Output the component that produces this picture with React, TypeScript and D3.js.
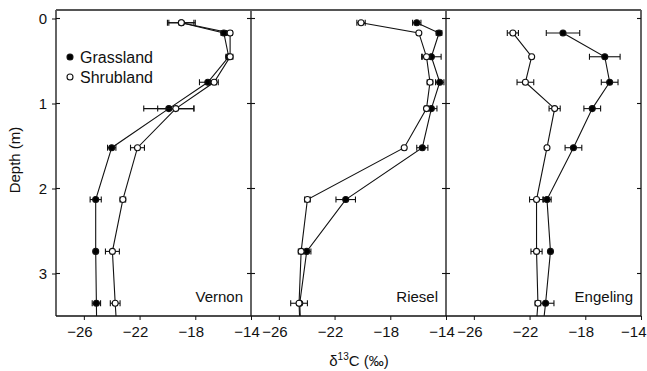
import { useEffect, useRef } from 'react';
import * as d3 from 'd3';

// Sites (panels) and their sampled depths (m)
const sites = ['Vernon', 'Riesel', 'Engeling'];
const depthVernon = [0.05, 0.17, 0.45, 0.75, 1.06, 1.52, 2.13, 2.74, 3.35, 4.0];
const depthRiesel = [0.05, 0.17, 0.45, 0.75, 1.06, 1.52, 2.13, 2.74, 3.35, 4.0];
const depthEngeling = [0.17, 0.45, 0.75, 1.06, 1.52, 2.13, 2.74, 3.35, 4.0];

// delta 13C values (per mil) and errors
const grassVernon = [-19.0, -15.95, -15.6, -17.1, -19.9, -24.0, -25.15, -25.15, -25.1, -25.05];
const grassVernonErr = [0.9, 0.2, 0.2, 0.6, 1.8, 0.3, 0.4, 0, 0.3, 0];
const shrubVernon = [-19.0, -15.5, -15.5, -16.65, -19.4, -22.15, -23.2, -23.95, -23.75, -23.5];
const shrubVernonErr = [1.0, 0.15, 0.2, 0.3, 1.3, 0.5, 0.2, 0.5, 0.35, 0];

const grassRiesel = [-16.1, -14.5, -15.05, -14.45, -15.05, -15.7, -21.2, -24.0, -24.5, -24.35];
const grassRieselErr = [0.3, 0.2, 0.7, 0.3, 0.4, 0.4, 0.7, 0.3, 0, 0];
const shrubRiesel = [-20.1, -15.95, -15.4, -15.15, -15.4, -17.0, -23.95, -24.4, -24.55, -24.4];
const shrubRieselErr = [0.3, 0.1, 0.3, 0.2, 0.15, 0.1, 0.2, 0.2, 0.6, 0];

const grassEngeling = [-19.6, -16.6, -16.25, -17.5, -18.85, -20.75, -20.5, -20.85, -21.3];
const grassEngelingErr = [1.2, 1.1, 0.6, 0.6, 0.6, 0.3, 0, 0.6, 0];
const shrubEngeling = [-23.2, -21.85, -22.3, -20.2, -20.75, -21.5, -21.5, -21.4, -21.7];
const shrubEngelingErr = [0.4, 0.1, 0.6, 0.4, 0.1, 0.5, 0.4, 0.2, 0];

const xTicks = [-26, -22, -18, -14];
const yTicks = [0, 1, 2, 3];

const zip = (depth: number[], vals: number[], errs: number[]) =>
  depth.map((d, i) => ({ depth: d, value: vals[i], err: errs[i] }));

const panels = [
  { grass: zip(depthVernon, grassVernon, grassVernonErr), shrub: zip(depthVernon, shrubVernon, shrubVernonErr) },
  { grass: zip(depthRiesel, grassRiesel, grassRieselErr), shrub: zip(depthRiesel, shrubRiesel, shrubRieselErr) },
  { grass: zip(depthEngeling, grassEngeling, grassEngelingErr), shrub: zip(depthEngeling, shrubEngeling, shrubEngelingErr) },
];

export default function App() {
  const svgRef = useRef<SVGSVGElement>(null);

  useEffect(() => {
    const width = 647;
    const height = 371;
    const svg = d3.select(svgRef.current);
    svg.selectAll('*').remove();
    svg.attr('width', width).attr('height', height);

    const font = 'Liberation Sans, Arial, Helvetica, sans-serif';
    const left = 56;
    const top = 10;
    const bottom = 316;
    const panelW = 195;
    const maxDepth = 3.5;

    const y = d3.scaleLinear().domain([-0.1, maxDepth]).range([top, bottom]);

    svg.append('defs')
      .append('clipPath')
      .attr('id', 'plot-clip')
      .append('rect')
      .attr('x', left)
      .attr('y', top)
      .attr('width', panelW * 3)
      .attr('height', bottom - top);

    panels.forEach((p, i) => {
      const x0 = left + i * panelW;
      const x = d3.scaleLinear().domain([-28, -14]).range([x0, x0 + panelW]);
      const g = svg.append('g');

      // line for each series, clipped to panel
      const line = d3.line<{ depth: number; value: number }>()
        .x(d => x(d.value))
        .y(d => y(d.depth));

      const series = [
        { data: p.grass, fill: '#000' },
        { data: p.shrub, fill: '#fff' },
      ];

      const clipped = g.append('g').attr('clip-path', 'url(#plot-clip)');
      series.forEach(s => {
        clipped.append('path')
          .datum(s.data)
          .attr('fill', 'none')
          .attr('stroke', '#111')
          .attr('stroke-width', 1.1)
          .attr('d', line);
      });

      series.forEach(s => {
        const pts = s.data.filter(d => d.depth <= maxDepth);
        const eb = g.append('g').attr('stroke', '#111').attr('stroke-width', 1.1);
        pts.filter(d => d.err > 0).forEach(d => {
          const cy = y(d.depth);
          eb.append('line')
            .attr('x1', x(d.value - d.err)).attr('x2', x(d.value + d.err))
            .attr('y1', cy).attr('y2', cy);
          [d.value - d.err, d.value + d.err].forEach(v => {
            eb.append('line')
              .attr('x1', x(v)).attr('x2', x(v))
              .attr('y1', cy - 3).attr('y2', cy + 3);
          });
        });
        g.append('g')
          .selectAll('circle')
          .data(pts)
          .enter()
          .append('circle')
          .attr('cx', d => x(d.value))
          .attr('cy', d => y(d.depth))
          .attr('r', 3)
          .attr('fill', s.fill)
          .attr('stroke', '#111')
          .attr('stroke-width', 1.1);
      });

      // x axis (digits centred on the tick, minus hangs left)
      const xAxis = g.append('g')
        .attr('transform', `translate(0,${bottom})`)
        .call(d3.axisBottom(x).tickValues(xTicks).tickSize(4).tickSizeOuter(0)
          .tickFormat(d => `\u2212${Math.abs(d as number)}`));
      xAxis.select('.domain').remove();
      xAxis.selectAll('line').attr('stroke', '#111');
      xAxis.selectAll('text')
        .attr('font-family', font)
        .attr('font-size', 15)
        .attr('fill', '#111')
        .attr('dy', '0.95em')
        .attr('dx', -4.5);
      if (i === panels.length - 1) {
        xAxis.selectAll('text')
          .filter(d => d === -14)
          .attr('text-anchor', 'end')
          .attr('dx', 5);
      }

      // inner y ticks on each panel side
      const tickG = g.append('g').attr('stroke', '#111').attr('stroke-width', 1.1);
      yTicks.forEach(t => {
        tickG.append('line')
          .attr('x1', x0).attr('x2', x0 + 4)
          .attr('y1', y(t)).attr('y2', y(t));
        tickG.append('line')
          .attr('x1', x0 + panelW - 4).attr('x2', x0 + panelW)
          .attr('y1', y(t)).attr('y2', y(t));
      });

      // panel right border
      g.append('line')
        .attr('x1', x0 + panelW).attr('x2', x0 + panelW)
        .attr('y1', top).attr('y2', bottom)
        .attr('stroke', '#111')
        .attr('stroke-width', 1.3);

      // site label
      g.append('text')
        .attr('x', x0 + panelW - 8)
        .attr('y', 302)
        .attr('text-anchor', 'end')
        .attr('font-family', font)
        .attr('font-size', 15)
        .attr('fill', '#111')
        .text(sites[i]);
    });

    // y axis
    const yAxis = svg.append('g')
      .attr('transform', `translate(${left},0)`)
      .call(d3.axisLeft(y).tickValues(yTicks).tickSize(4).tickSizeOuter(0).tickPadding(5)
        .tickFormat(d3.format('d')));
    yAxis.select('.domain').remove();
    yAxis.selectAll('line').attr('stroke', '#111');
    yAxis.selectAll('text')
      .attr('font-family', font)
      .attr('font-size', 15)
      .attr('fill', '#111');

    // frame: left, bottom, top
    svg.append('line')
      .attr('x1', left).attr('x2', left).attr('y1', top).attr('y2', bottom)
      .attr('stroke', '#111').attr('stroke-width', 1.3);
    svg.append('line')
      .attr('x1', left).attr('x2', left + panelW * 3).attr('y1', bottom).attr('y2', bottom)
      .attr('stroke', '#111').attr('stroke-width', 1.3);
    svg.append('line')
      .attr('x1', left).attr('x2', left + panelW * 3).attr('y1', top).attr('y2', top)
      .attr('stroke', '#555').attr('stroke-width', 1.8);

    // legend
    const legend = svg.append('g').attr('font-family', font).attr('font-size', 16).attr('fill', '#111');
    [
      { label: 'Grassland', fill: '#000', yy: 57 },
      { label: 'Shrubland', fill: '#fff', yy: 77 },
    ].forEach(l => {
      legend.append('circle')
        .attr('cx', 70).attr('cy', l.yy).attr('r', 3)
        .attr('fill', l.fill).attr('stroke', '#111').attr('stroke-width', 1.1);
      legend.append('text')
        .attr('x', 80).attr('y', l.yy).attr('dy', '0.36em')
        .text(l.label);
    });

    // axis titles
    svg.append('text')
      .attr('transform', 'translate(20,160) rotate(-90)')
      .attr('text-anchor', 'middle')
      .attr('font-family', font)
      .attr('font-size', 15)
      .attr('fill', '#111')
      .text('Depth (m)');

    const xt = svg.append('text')
      .attr('x', 359)
      .attr('y', 366)
      .attr('text-anchor', 'middle')
      .attr('font-family', font)
      .attr('font-size', 15)
      .attr('fill', '#111');
    xt.append('tspan').text('\u03b4');
    xt.append('tspan').attr('font-size', 10).attr('dy', -6).text('13');
    xt.append('tspan').attr('dy', 6).text('C (\u2030)');
  }, []);

  return (
    <div>
      <svg ref={svgRef} style={{ position: 'absolute', left: 0, top: 0 }}></svg>
    </div>
  );
}
